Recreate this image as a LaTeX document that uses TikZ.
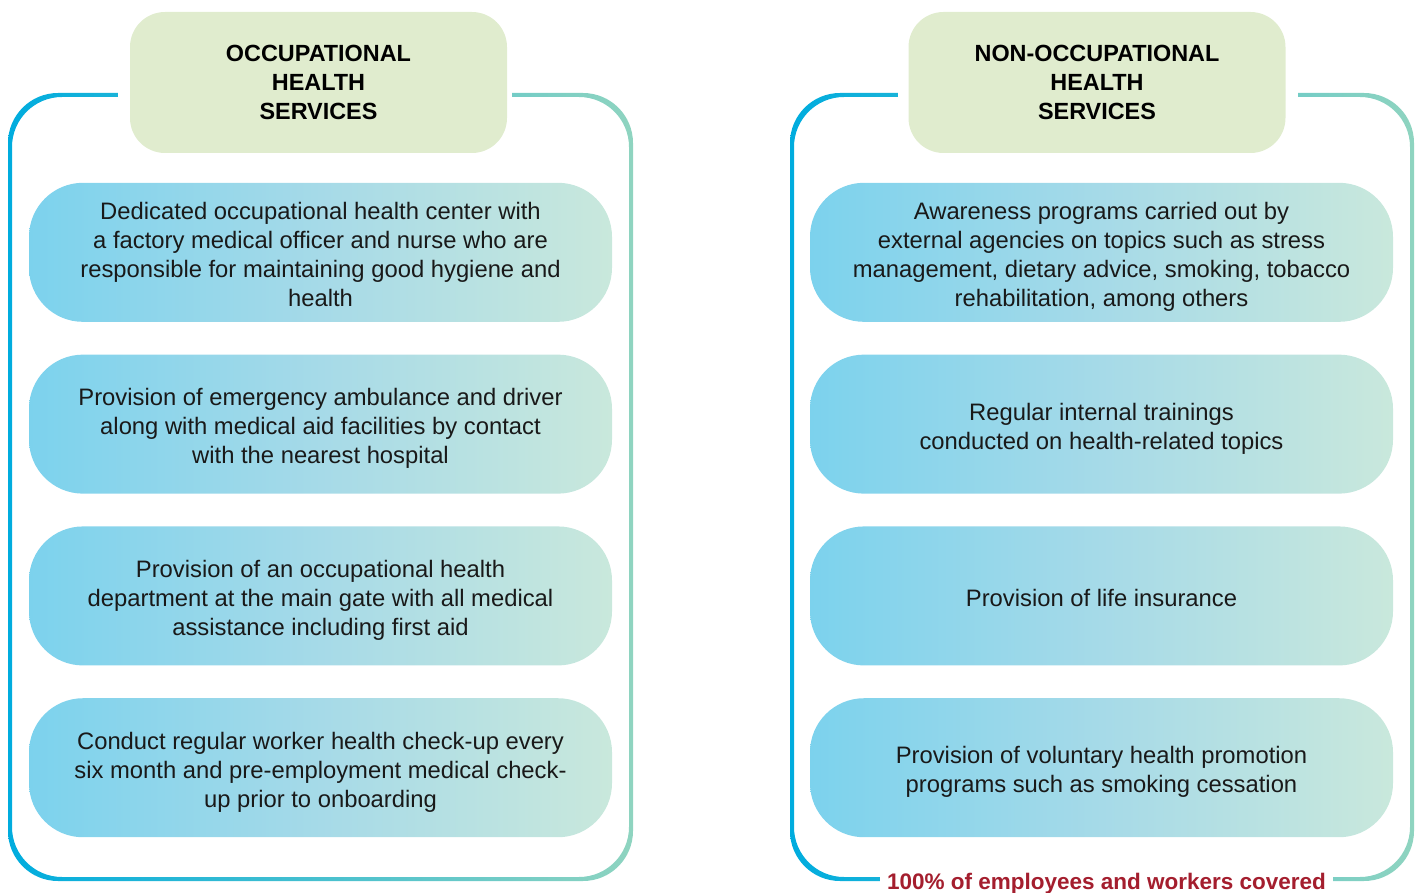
\documentclass[tikz,border=0pt]{standalone}
\usepackage{fontspec}
\setmainfont{Liberation Sans}
\usepackage{xcolor}
\usetikzlibrary{positioning}
\definecolor{cLineL}{RGB}{0,172,222}
\definecolor{cLineR}{RGB}{143,212,192}
\definecolor{cBoxL}{RGB}{124,210,237}
\definecolor{cBoxM}{RGB}{166,218,232}
\definecolor{cBoxR}{RGB}{201,232,220}
\definecolor{cHead}{RGB}{224,236,206}
\definecolor{cNote}{RGB}{164,30,46}
\tikzset{
	header/.style={rectangle, rounded corners=17.5pt, minimum width=188.5pt, minimum height=70.5pt, align=center, fill=cHead, text=black, font=\fontsize{11.7}{14.5}\selectfont\bfseries},
	item/.style ={rectangle, rounded corners=27pt, minimum width=291.5pt, minimum height=69.5pt, text width=280pt, align=flush center, left color=cBoxL, right color=cBoxR, middle color=cBoxM, text=black!90, font=\fontsize{11.9}{14.5}\selectfont,
		execute at begin node=\rule{0pt}{15pt}, execute at end node=\strut},
	frame/.style={even odd rule, left color=cLineL, right color=cLineR, rounded corners=25pt},
	note/.style ={fill=white, inner xsep=3.75pt, inner ysep=1pt, text=cNote, font=\fontsize{11.25}{13}\selectfont\bfseries},
}
\begin{document}
\begin{tikzpicture}[x=0.5pt, y=-0.5pt, node distance=16pt]
	\useasboundingbox (0,0) rectangle (1420,893);
	% panel outlines, cut open for the headers
	\shade[frame] (8,93) rectangle (633,881) (12,97) rectangle (629,877);
	\shade[frame] (790,93) rectangle (1414,881) (794,97) rectangle (1410,877);
	\fill[white] (118,89) rectangle (512,101);
	\fill[white] (898,89) rectangle (1298,101);
	% occupational side
	\node[header] (occ) at (318.5,82.5) {OCCUPATIONAL\\HEALTH\\SERVICES};
	\node[item, below=14.5pt of occ, xshift=1pt] (o1) {Dedicated occupational health center with\\a factory medical officer and nurse who are\\responsible for maintaining good hygiene and\\health};
	\node[item, below=of o1] (o2) {Provision of emergency ambulance and driver\\along with medical aid facilities by contact\\with the nearest hospital};
	\node[item, below=of o2] (o3) {Provision of an occupational health\\department at the main gate with all medical\\assistance including first aid};
	\node[item, below=of o3] (o4) {Conduct regular worker health check-up every\\six month and pre-employment medical check-\\up prior to onboarding};
	% non-occupational side
	\node[header] (nocc) at (1097,82.5) {NON-OCCUPATIONAL\\HEALTH\\SERVICES};
	\node[item, below=14.5pt of nocc, xshift=2.25pt] (n1) {Awareness programs carried out by\\external agencies on topics such as stress\\management, dietary advice, smoking, tobacco\\rehabilitation, among others};
	\node[item, below=of n1] (n2) {Regular internal trainings\\conducted on health-related topics};
	\node[item, below=of n2] (n3) {Provision of life insurance};
	\node[item, below=of n3] (n4) {Provision of voluntary health promotion\\programs such as smoking cessation};
	\node[note, anchor=base] (cover) at (1106.5,889) {100\% of employees and workers covered};
\end{tikzpicture}
\end{document}
